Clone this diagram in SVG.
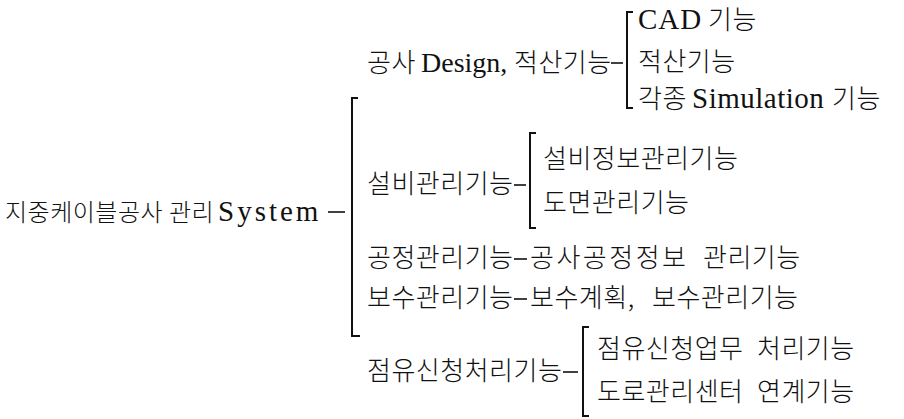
<svg xmlns="http://www.w3.org/2000/svg" width="904" height="419" viewBox="0 0 904 419">
<style>
.k{font-family:"Noto Sans CJK KR","Liberation Serif",sans-serif;font-size:26px;font-weight:300;letter-spacing:0.5px;fill:#111}
.r{font-size:24px}
.l{font-family:"Liberation Serif","Noto Sans CJK KR",serif;font-size:29px;fill:#111}
.c{fill:none;stroke:#111;stroke-width:2}
.d{fill:none;stroke:#111;stroke-width:1.6}
</style>
<rect width="904" height="419" fill="#fff"/>
<g id="connectors">
<path class="d" d="M328,212H345"/>
<path class="c" d="M358,98H352V336H360"/>
<path class="d" d="M611,63H623"/>
<path class="c" d="M633,12H627V108H633"/>
<path class="d" d="M514,185H526"/>
<path class="c" d="M536,133H530V228H536"/>
<path class="d" d="M514,259H527"/>
<path class="d" d="M514,299H527"/>
<path class="d" d="M563,372H578"/>
<path class="c" d="M589,327H583V416H589"/>
</g>
<g id="n-root"><text y="221"><tspan class="k r" x="5">지중케이블공사</tspan><tspan class="k r" x="169">관리</tspan><tspan class="l" x="218" style="letter-spacing:3px">System</tspan></text></g>
<g id="n-design"><text y="72"><tspan class="k" x="367">공사</tspan><tspan class="l" x="421" style="font-size:28px">Design,</tspan><tspan class="k" x="514">적산기능</tspan></text></g>
<g id="n-cad"><text y="29"><tspan class="l" x="638" style="letter-spacing:1px">CAD</tspan><tspan class="k" x="708">기능</tspan></text></g>
<g id="n-jeoksan"><text y="71"><tspan class="k" x="638">적산기능</tspan></text></g>
<g id="n-sim"><text y="108"><tspan class="k" x="638">각종</tspan><tspan class="l" x="692" style="letter-spacing:0.5px">Simulation</tspan><tspan class="k" x="832">기능</tspan></text></g>
<g id="n-seolbi"><text y="193"><tspan class="k" x="367">설비관리기능</tspan></text></g>
<g id="n-seolbi-info"><text y="168"><tspan class="k" x="543">설비정보관리기능</tspan></text></g>
<g id="n-domyeon"><text y="212"><tspan class="k" x="543">도면관리기능</tspan></text></g>
<g id="n-gongjeong"><text y="267"><tspan class="k" x="367">공정관리기능</tspan></text></g>
<g id="n-gongjeong-info"><text y="267"><tspan class="k" x="530" style="letter-spacing:2.5px">공사공정정보</tspan><tspan class="k" x="703">관리기능</tspan></text></g>
<g id="n-bosu"><text y="307"><tspan class="k" x="367">보수관리기능</tspan></text></g>
<g id="n-bosu-plan"><text y="307"><tspan class="k" x="530">보수계획,</tspan><tspan class="k" x="652">보수관리기능</tspan></text></g>
<g id="n-jeomyu"><text y="380"><tspan class="k" x="367">점유신청처리기능</tspan></text></g>
<g id="n-jeomyu-work"><text y="358"><tspan class="k" x="597">점유신청업무</tspan><tspan class="k" x="757">처리기능</tspan></text></g>
<g id="n-road"><text y="401"><tspan class="k" x="597">도로관리센터</tspan><tspan class="k" x="757">연계기능</tspan></text></g>
</svg>
